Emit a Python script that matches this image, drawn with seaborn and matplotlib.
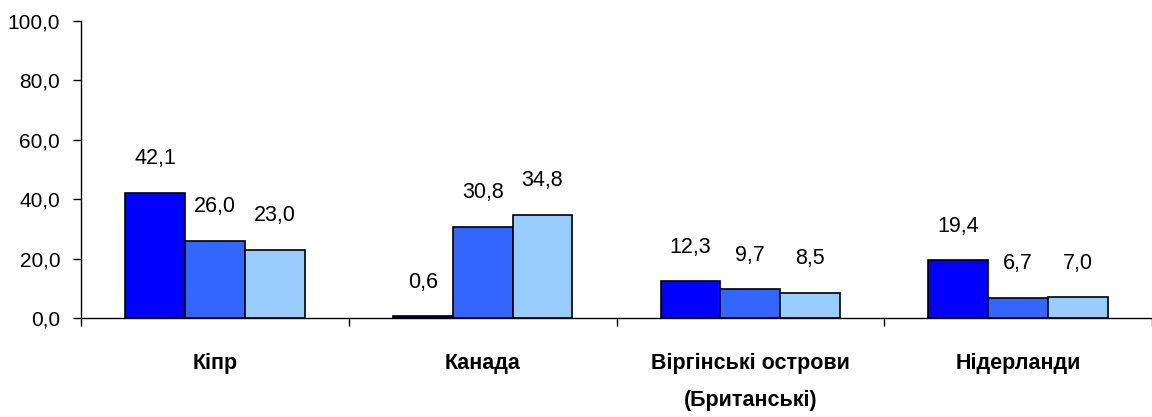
import matplotlib
matplotlib.use("Agg")
import matplotlib.pyplot as plt
import seaborn as sns
import pandas as pd

countries = ['Кіпр', 'Канада', 'Віргінські острови\n(Британські)', 'Нідерланди']
series = ['ряд 1', 'ряд 2', 'ряд 3']
values1 = [42.1, 0.6, 12.3, 19.4]
values2 = [26.0, 30.8, 9.7, 6.7]
values3 = [23.0, 34.8, 8.5, 7.0]
colors = ['#0000FF', '#3366FF', '#99CCFF']

rows = []
for s, vals in zip(series, [values1, values2, values3]):
    for c, v in zip(countries, vals):
        rows.append({'country': c, 'series': s, 'value': v})
df = pd.DataFrame(rows)

sns.set_style("white")
plt.rcParams['font.family'] = ['Liberation Sans', 'DejaVu Sans']
plt.rcParams['text.color'] = 'black'
plt.rcParams['xtick.color'] = 'black'
plt.rcParams['ytick.color'] = 'black'

fig = plt.figure(figsize=(11.52, 4.17), dpi=100)
ax = fig.add_axes([81/1152, 99/417, 1071/1152, 297/417])

sns.barplot(data=df, x='country', y='value', hue='series', palette=colors,
            width=0.67, gap=0, edgecolor='black', linewidth=1.2,
            legend=False, ax=ax, saturation=1)

# data labels
for cont in ax.containers:
    for bar in cont:
        h = bar.get_height()
        ax.annotate(f'{h:.1f}'.replace('.', ','),
                    (bar.get_x() + bar.get_width()/2, h),
                    xytext=(0, 17), textcoords='offset points',
                    ha='center', va='bottom', fontsize=15.5, color='black')

ax.set_ylim(0, 100)
ax.set_xlim(-0.5, -0.5 + 1071/268.75)
ax.set_yticks([0, 20, 40, 60, 80, 100])
ax.set_yticklabels([f'{v:.1f}'.replace('.', ',') for v in [0, 20, 40, 60, 80, 100]])
ax.tick_params(axis='y', direction='out', length=6, width=1, labelsize=15,
               pad=9, left=True, color='black', labelcolor='black')

ax.set_xticks(range(len(countries)))
ax.set_xticklabels(countries, fontweight='bold', fontsize=15.5, linespacing=2.0)
ax.tick_params(axis='x', which='major', length=0, pad=25, labelcolor='black')
ax.set_xticks([-0.5, 0.5, 1.5, 2.5, 3.5], minor=True)
ax.tick_params(axis='x', which='minor', direction='out', length=6, width=1,
               bottom=True, color='black')

ax.set_xlabel('')
ax.set_ylabel('')
for side in ['top', 'right']:
    ax.spines[side].set_visible(False)
for side in ['left', 'bottom']:
    ax.spines[side].set_color('black')
    ax.spines[side].set_linewidth(1)

fig.savefig('out.png', dpi=100)
